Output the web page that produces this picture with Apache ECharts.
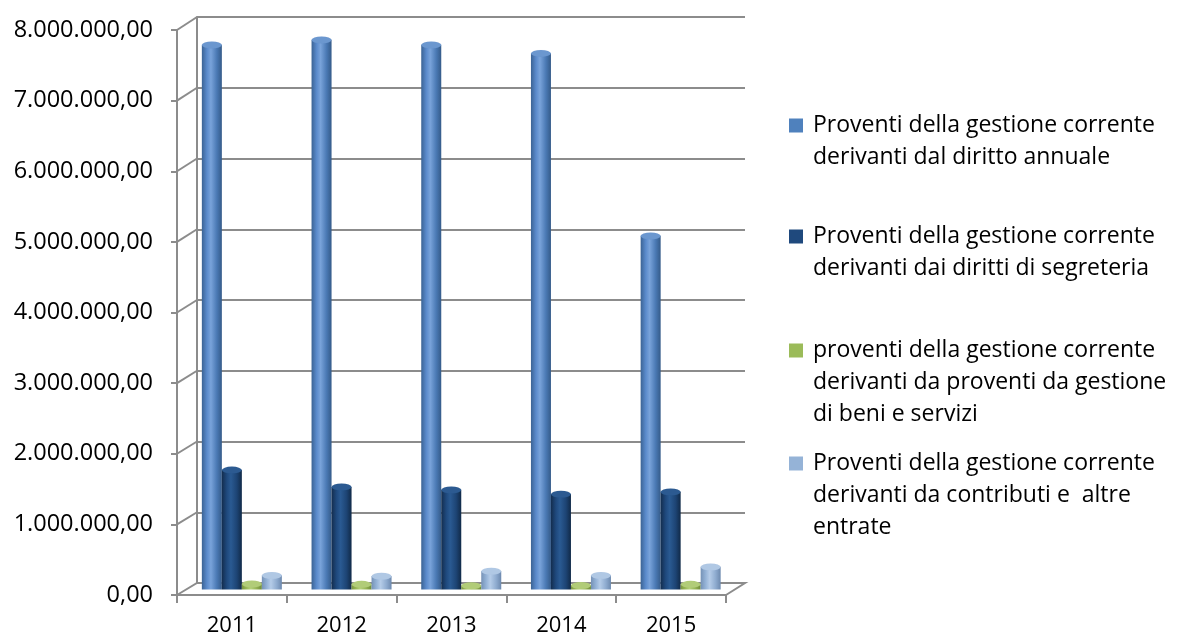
<!DOCTYPE html>
<html>
<head>
<meta charset="utf-8">
<script src="https://cdn.jsdelivr.net/npm/echarts@6/dist/echarts.min.js"></script>
<style>
  html, body { margin: 0; padding: 0; background: #fff; }
  #chart { width: 1177px; height: 637px; }
</style>
</head>
<body>
<div id="chart"></div>
<script>
const categories = ['2011', '2012', '2013', '2014', '2015'];
const annuale = [7700000, 7770000, 7700000, 7580000, 5000000];
const segreteria = [1690000, 1450000, 1410000, 1350000, 1380000];
const beniServizi = [80000, 75000, 55000, 60000, 75000];
const contributi = [200000, 190000, 260000, 200000, 320000];
const seriesNames = [
  'Proventi della gestione corrente derivanti dal diritto annuale',
  'Proventi della gestione corrente derivanti dai diritti di segreteria',
  'proventi della gestione corrente derivanti da proventi da gestione di beni e servizi',
  'Proventi della gestione corrente derivanti da contributi e  altre entrate'
];
const legendLines = [
  ['Proventi della gestione corrente', 'derivanti dal diritto annuale'],
  ['Proventi della gestione corrente', 'derivanti dai diritti di segreteria'],
  ['proventi della gestione corrente', 'derivanti da proventi da gestione', 'di beni e servizi'],
  ['Proventi della gestione corrente', 'derivanti da contributi e  altre', 'entrate']
];
const yMin = 0, yMax = 8000000, yStep = 1000000;

const FONT = '"Open Sans", "Noto Sans", sans-serif';
const colors = ['#4F81BD', '#1F497D', '#9BBB59', '#95B3D7'];
const shades = [
  ['#3B6394', '#5A8ACB', '#79A3DA', '#4A79B4', '#355B89'],
  ['#132D4E', '#1F497D', '#2A5A92', '#1D4474', '#112A48'],
  ['#7A9540', '#9BBB59', '#B4D07A', '#92B153', '#6F8A3B'],
  ['#7592B6', '#95B3D7', '#B5CCE8', '#8EABCF', '#6D89AE']
];
const topColors = ['#6B97CF', '#2C5A91', '#B1CC78', '#B0C8E4'];
const gridColor = '#8C8C8C';
const allData = [annuale, segreteria, beniServizi, contributi];

function itFmt(v) {
  const s = Math.round(v).toString().replace(/\B(?=(\d{3})+(?!\d))/g, '.');
  return s + ',00';
}
function cyl(i) {
  const c = shades[i];
  return {
    type: 'linear', x: 0, y: 0, x2: 1, y2: 0,
    colorStops: [
      { offset: 0, color: c[0] }, { offset: 0.25, color: c[1] },
      { offset: 0.45, color: c[2] }, { offset: 0.75, color: c[3] },
      { offset: 1, color: c[4] }
    ]
  };
}

const chart = echarts.init(document.getElementById('chart'), null, { renderer: 'canvas' });

const series = [];
allData.forEach((d, i) => {
  series.push({
    name: seriesNames[i], type: 'bar', xAxisIndex: 2, yAxisIndex: 2,
    data: d, barWidth: 20, barGap: '0%',
    itemStyle: { color: cyl(i) }, silent: true, z: 3
  });
});
allData.forEach((d, i) => {
  series.push({
    name: 'top' + i, type: 'pictorialBar', xAxisIndex: 2, yAxisIndex: 2,
    data: d, barWidth: 20, barGap: '0%', symbol: 'circle', symbolSize: [20, 7],
    symbolPosition: 'end', symbolOffset: [0, '-50%'],
    itemStyle: { color: topColors[i], borderColor: shades[i][4], borderWidth: 0.6 },
    silent: true, z: 4
  });
});

const legends = seriesNames.map((n, i) => ({
  data: [n], left: 779, top: [109, 220, 334, 447][i], orient: 'vertical',
  itemWidth: 0, itemHeight: 0, icon: 'rect', selectedMode: false,
  formatter: function (name) {
    const idx = seriesNames.indexOf(name);
    return legendLines[idx].map((l, k) => (k === 0 ? '{sq' + idx + '|}' : '{pad|}') + '{t|' + l + '}').join('\n');
  },
  textStyle: {
    rich: {
      sq0: { width: 14, height: 14, backgroundColor: colors[0] },
      sq1: { width: 14, height: 14, backgroundColor: colors[1] },
      sq2: { width: 14, height: 14, backgroundColor: colors[2] },
      sq3: { width: 14, height: 14, backgroundColor: colors[3] },
      pad: { width: 14 },
      t: { fontFamily: FONT, fontSize: 23, color: '#000', lineHeight: 32, padding: [0, 0, 0, 10] }
    }
  }
}));

chart.setOption({
  animation: false,
  backgroundColor: '#fff',
  legend: legends,
  grid: [
    { left: 197, top: 17, width: 548, height: 566 },
    { left: 177, top: 30, width: 549, height: 566 },
    { left: 187, top: 23.5, width: 548.5, height: 566 }
  ],
  xAxis: [
    { gridIndex: 0, type: 'value', min: 0, max: 5, show: false },
    {
      gridIndex: 1, type: 'category', data: categories,
      axisLine: { lineStyle: { color: gridColor, width: 2 } },
      axisTick: { show: true, length: 8, lineStyle: { color: gridColor, width: 2 } },
      axisLabel: { fontFamily: FONT, fontSize: 22, color: '#000', margin: 20 }
    },
    { gridIndex: 2, type: 'category', data: categories, show: false }
  ],
  yAxis: [
    {
      gridIndex: 0, type: 'value', min: yMin, max: yMax, interval: yStep,
      axisLine: { show: true, lineStyle: { color: gridColor, width: 2 } },
      axisTick: { show: false }, axisLabel: { show: false },
      splitLine: { show: true, lineStyle: { color: gridColor, width: 2 } }
    },
    {
      gridIndex: 1, type: 'value', min: yMin, max: yMax, interval: yStep,
      axisLine: { show: true, lineStyle: { color: gridColor, width: 2 } },
      axisTick: { show: true, length: 6, lineStyle: { color: gridColor, width: 2 } },
      splitLine: { show: false },
      axisLabel: { fontFamily: FONT, fontSize: 23.5, color: '#000', margin: 24, formatter: itFmt }
    },
    { gridIndex: 2, type: 'value', min: yMin, max: yMax, interval: yStep, show: false }
  ],
  series: series
});

// 3D decorations derived from the axes' own scales
function decorate() {
  const g = [];
  const c0 = chart.convertToPixel({ xAxisIndex: 1 }, 0);
  const c1 = chart.convertToPixel({ xAxisIndex: 1 }, 1);
  const bw = c1 - c0;
  const fL = c0 - bw / 2, fR = c0 + (categories.length - 0.5) * bw;
  const bL = chart.convertToPixel({ xAxisIndex: 0 }, 0);
  const bR = chart.convertToPixel({ xAxisIndex: 0 }, 5);
  const fy0 = chart.convertToPixel({ yAxisIndex: 1 }, 0);
  const by0 = chart.convertToPixel({ yAxisIndex: 0 }, 0);
  g.push({
    type: 'polyline', silent: true, z: 1,
    shape: { points: [[fL, fy0], [bL, by0], [bR, by0], [fR, fy0]] },
    style: { stroke: gridColor, lineWidth: 2, fill: null }
  });
  for (let v = yMin + yStep; v <= yMax; v += yStep) {
    g.push({
      type: 'line', silent: true, z: 1,
      shape: { x1: fL, y1: chart.convertToPixel({ yAxisIndex: 1 }, v), x2: bL, y2: chart.convertToPixel({ yAxisIndex: 0 }, v) },
      style: { stroke: gridColor, lineWidth: 2 }
    });
  }
  chart.setOption({ graphic: g });
}
decorate();
</script>
</body>
</html>
